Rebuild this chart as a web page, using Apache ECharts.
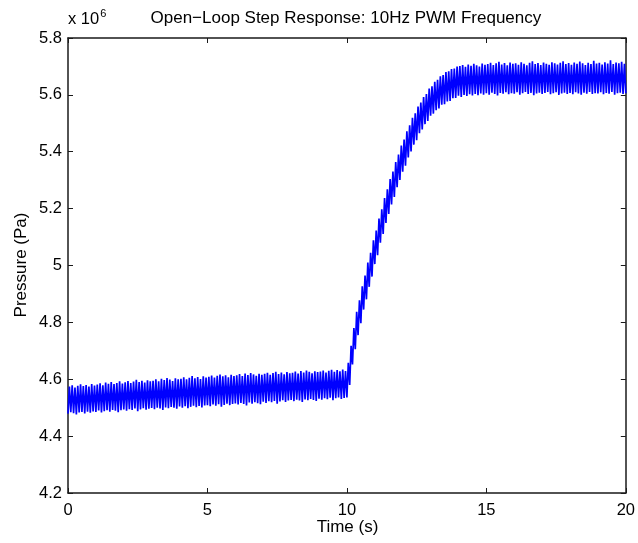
<!DOCTYPE html>
<html>
<head>
<meta charset="utf-8">
<script src="https://cdn.jsdelivr.net/npm/echarts@6/dist/echarts.min.js"></script>
<style>
html,body{margin:0;padding:0;background:#fff;}
#chart{width:638px;height:543px;}
</style>
</head>
<body>
<div id="chart"></div>
<script>
// Pressure in units of 10^6 Pa; PWM at 10 Hz -> one trough and one peak per 0.1 s period
const PWM_PERIOD = 0.1;
const titleText = 'Open\u2212Loop Step Response: 10Hz PWM Frequency';
const xTicks = [0, 5, 10, 15, 20];
const yTicks = [4.2, 4.4, 4.6, 4.8, 5, 5.2, 5.4, 5.6, 5.8];

// trough value at the start of each PWM period (t = k*0.1 s), last entry at t = 20 s
const troughs = [
  4.479,4.484,4.481,4.476,4.483,4.485,4.480,4.486,4.482,4.487,
  4.485,4.490,4.483,4.488,4.491,4.486,4.492,4.489,4.484,4.491,
  4.494,4.489,4.495,4.492,4.497,4.488,4.494,4.498,4.493,4.496,
  4.499,4.495,4.500,4.497,4.492,4.501,4.498,4.503,4.500,4.496,
  4.504,4.500,4.505,4.498,4.503,4.507,4.502,4.506,4.501,4.508,
  4.509,4.505,4.511,4.507,4.512,4.503,4.510,4.514,4.509,4.513,
  4.515,4.511,4.517,4.513,4.508,4.518,4.514,4.519,4.516,4.512,
  4.521,4.517,4.523,4.519,4.524,4.514,4.522,4.526,4.520,4.525,
  4.527,4.523,4.528,4.525,4.520,4.529,4.526,4.531,4.527,4.524,
  4.532,4.528,4.533,4.530,4.535,4.526,4.533,4.536,4.531,4.534,
  4.536,4.580,4.652,4.706,4.755,4.797,4.845,4.881,4.925,4.961,
  5.005,5.036,5.080,5.111,5.150,5.181,5.215,5.241,5.275,5.301,
  5.330,5.351,5.380,5.401,5.425,5.441,5.465,5.478,5.497,5.508,
  5.527,5.534,5.546,5.552,5.565,5.567,5.577,5.579,5.588,5.589,
  5.597,5.593,5.600,5.596,5.602,5.598,5.603,5.599,5.605,5.601,
  5.606,5.601,5.608,5.603,5.598,5.607,5.604,5.609,5.602,5.606,
  5.604,5.609,5.601,5.606,5.610,5.603,5.607,5.599,5.605,5.608,
  5.603,5.607,5.610,5.602,5.606,5.609,5.600,5.605,5.608,5.603,
  5.607,5.602,5.609,5.605,5.601,5.608,5.604,5.610,5.603,5.606,
  5.605,5.609,5.602,5.607,5.604,5.610,5.601,5.606,5.608,5.603,
  5.606
];

// peak value at the middle of each PWM period (t = k*0.1 + 0.05 s)
const peaks = [
  4.574,4.579,4.571,4.577,4.582,4.576,4.580,4.574,4.583,4.578,
  4.581,4.586,4.579,4.588,4.584,4.590,4.583,4.587,4.593,4.585,
  4.589,4.594,4.587,4.592,4.598,4.590,4.595,4.588,4.596,4.593,
  4.595,4.600,4.593,4.602,4.597,4.604,4.599,4.594,4.603,4.600,
  4.602,4.607,4.600,4.605,4.611,4.603,4.608,4.601,4.610,4.606,
  4.609,4.613,4.606,4.612,4.617,4.610,4.614,4.607,4.616,4.611,
  4.614,4.618,4.611,4.620,4.615,4.622,4.617,4.612,4.619,4.616,
  4.619,4.623,4.616,4.622,4.626,4.618,4.624,4.617,4.625,4.621,
  4.623,4.627,4.620,4.629,4.624,4.631,4.626,4.621,4.628,4.625,
  4.627,4.631,4.624,4.630,4.633,4.626,4.632,4.628,4.634,4.629,
  4.658,4.718,4.780,4.837,4.878,4.927,4.965,5.010,5.045,5.089,
  5.123,5.165,5.198,5.237,5.268,5.304,5.330,5.364,5.390,5.422,
  5.443,5.472,5.493,5.519,5.535,5.559,5.573,5.592,5.603,5.622,
  5.630,5.646,5.653,5.665,5.670,5.680,5.683,5.691,5.693,5.700,
  5.701,5.705,5.699,5.707,5.702,5.709,5.704,5.700,5.710,5.706,
  5.708,5.713,5.705,5.711,5.716,5.707,5.712,5.704,5.714,5.709,
  5.711,5.706,5.715,5.709,5.704,5.713,5.718,5.708,5.712,5.705,
  5.714,5.709,5.706,5.715,5.711,5.707,5.713,5.718,5.708,5.712,
  5.706,5.714,5.709,5.717,5.711,5.705,5.713,5.708,5.720,5.710,
  5.713,5.707,5.715,5.710,5.722,5.708,5.714,5.711,5.716,5.709
];

const points = [];
for (let k = 0; k < peaks.length; k++) {
  points.push([+(k * PWM_PERIOD).toFixed(3), troughs[k]]);
  points.push([+(k * PWM_PERIOD + PWM_PERIOD / 2).toFixed(3), peaks[k]]);
}
points.push([+(peaks.length * PWM_PERIOD).toFixed(3), troughs[peaks.length]]);

const FONT = '"Liberation Sans", Arial, Helvetica, sans-serif';
const axisColor = '#1a1a1a';
const GRID = {left: 68, right: 11, top: 38, bottom: 50};

const chart = echarts.init(document.getElementById('chart'), null, {renderer: 'canvas'});

const baseAxis = {
  axisLine: {show: true, onZero: false, lineStyle: {color: axisColor, width: 1.5}},
  axisTick: {show: true, inside: true, length: 5, lineStyle: {color: axisColor, width: 1}},
  splitLine: {show: false},
  axisLabel: {color: '#000', fontFamily: FONT, fontSize: 16.5}
};

chart.setOption({
  animation: false,
  backgroundColor: '#fff',
  grid: {left: GRID.left, right: GRID.right, top: GRID.top, bottom: GRID.bottom, containLabel: false},
  xAxis: [
    Object.assign({}, baseAxis, {
      type: 'value', position: 'bottom', min: xTicks[0], max: xTicks[xTicks.length - 1], interval: 5,
      axisLabel: Object.assign({}, baseAxis.axisLabel, {margin: 9})
    }),
    Object.assign({}, baseAxis, {
      type: 'value', position: 'top', min: xTicks[0], max: xTicks[xTicks.length - 1], interval: 5,
      axisLabel: {show: false}
    })
  ],
  yAxis: [
    Object.assign({}, baseAxis, {
      type: 'value', position: 'left', min: yTicks[0], max: yTicks[yTicks.length - 1], interval: 0.2,
      axisLabel: Object.assign({}, baseAxis.axisLabel, {margin: 6,
        formatter: v => String(+v.toFixed(1))})
    }),
    Object.assign({}, baseAxis, {
      type: 'value', position: 'right', min: yTicks[0], max: yTicks[yTicks.length - 1], interval: 0.2,
      axisLabel: {show: false}
    })
  ],
  series: [{
    type: 'line',
    xAxisIndex: 0, yAxisIndex: 0,
    data: points,
    showSymbol: false,
    symbol: 'none',
    lineStyle: {color: '#0000ff', width: 1.7},
    itemStyle: {color: '#0000ff'},
    silent: true
  }],
  graphic: [
    {type: 'text', left: 347.5 - 197, top: 10, style: {
      text: titleText, fill: '#000', font: '17px ' + FONT}},
    {type: 'text', x: 68, y: 30, style: {
      text: 'x 10{s|6}', fill: '#000', font: '16.5px ' + FONT, textVerticalAlign: 'bottom',
      rich: {s: {fontSize: 11, fontFamily: FONT, fill: '#000', padding: [0, 0, 11, 1]}}}},
    {type: 'text', x: 347.5, y: 527, style: {
      text: 'Time (s)', fill: '#000', font: '17px ' + FONT, textAlign: 'center', textVerticalAlign: 'middle'}},
    {type: 'text', x: 21, y: 265, rotation: Math.PI / 2, style: {
      text: 'Pressure (Pa)', fill: '#000', font: '17px ' + FONT, textAlign: 'center', textVerticalAlign: 'middle'}}
  ]
});
</script>
</body>
</html>
